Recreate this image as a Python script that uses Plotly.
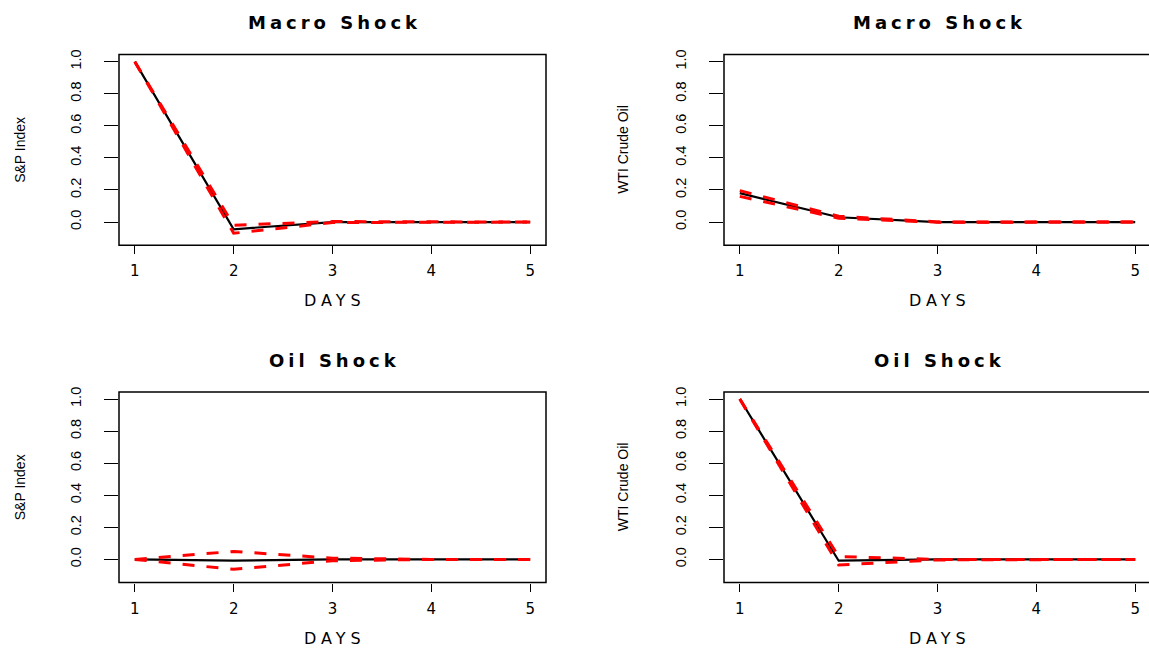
import plotly.graph_objects as go

days = [1, 2, 3, 4, 5]
x_ticks = [1, 2, 3, 4, 5]
y_ticks = [0.0, 0.2, 0.4, 0.6, 0.8, 1.0]
y_tick_labels = ["0.0", "0.2", "0.4", "0.6", "0.8", "1.0"]

macro_sp_irf = [1.0, -0.045, 0.0, 0.0, 0.0]
macro_sp_upper = [1.0, -0.02, 0.003, 0.0, 0.0]
macro_sp_lower = [1.0, -0.07, -0.003, 0.0, 0.0]

macro_wti_irf = [0.18, 0.03, 0.0, 0.0, 0.0]
macro_wti_upper = [0.196, 0.036, 0.001, 0.0, 0.0]
macro_wti_lower = [0.16, 0.024, -0.001, 0.0, 0.0]

oil_sp_irf = [0.0, -0.007, 0.0, 0.0, 0.0]
oil_sp_upper = [0.0, 0.05, 0.008, 0.0, 0.0]
oil_sp_lower = [0.0, -0.062, -0.008, 0.0, 0.0]

oil_wti_irf = [1.0, -0.008, 0.0, 0.0, 0.0]
oil_wti_upper = [1.0, 0.018, 0.0, 0.0, 0.0]
oil_wti_lower = [1.0, -0.035, -0.003, 0.0, 0.0]

panel_titles = ["Macro Shock", "Macro Shock", "Oil Shock", "Oil Shock"]
panel_ylabels = ["S&P Index", "WTI Crude Oil", "S&P Index", "WTI Crude Oil"]
x_label = "DAYS"

W, H = 1149, 648

panels = [
    (macro_sp_irf, macro_sp_upper, macro_sp_lower),
    (macro_wti_irf, macro_wti_upper, macro_wti_lower),
    (oil_sp_irf, oil_sp_upper, oil_sp_lower),
    (oil_wti_irf, oil_wti_upper, oil_wti_lower),
]

# pixel geometry of the plot boxes: (left, right, top, bottom)
boxes = [
    (119, 546, 50, 242),
    (724, 1151, 50, 242),
    (119, 546, 390, 582),
    (724, 1151, 390, 582),
]
XR = (0.84, 5.16)
YR = (-0.144, 1.044)

fig = go.Figure()
layout = dict(
    width=W, height=H, margin=dict(l=0, r=0, t=0, b=0),
    paper_bgcolor="white", plot_bgcolor="white", showlegend=False,
)
shapes = []
annotations = []

rot_font = "Liberation Sans, Arial, Helvetica, sans-serif"
wide = "DejaVu Sans, Verdana, sans-serif"

for i, (irf, up, lo) in enumerate(panels):
    n = "" if i == 0 else str(i + 1)
    l, r, t, b = boxes[i]
    xd1 = min(r, W) / W
    px_per_unit = (r - l) / (XR[1] - XR[0])
    xr_hi = XR[0] + (min(r, W) - l) / px_per_unit
    layout["xaxis" + n] = dict(
        domain=[l / W, xd1], range=[XR[0], xr_hi], anchor="y" + n,
        tickmode="array", tickvals=x_ticks, ticks="outside", ticklen=8,
        tickwidth=1, tickcolor="black", showgrid=False, zeroline=False,
        showline=False, tickfont=dict(family=wide, size=15, color="black"),
        ticklabelstandoff=4, fixedrange=True,
    )
    layout["yaxis" + n] = dict(
        domain=[1 - b / H, 1 - t / H], range=list(YR), anchor="x" + n,
        tickmode="array", tickvals=y_ticks, ticktext=y_tick_labels,
        ticks="outside", ticklen=14, tickwidth=1, tickcolor="black",
        tickangle=-90, showgrid=False, zeroline=False, showline=False,
        tickfont=dict(family=rot_font, size=14.5, color="black"),
        ticklabelstandoff=17, fixedrange=True,
    )
    xr = "x" + n
    yr = "y" + n
    fig.add_trace(go.Scatter(x=days, y=irf, mode="lines", xaxis=xr, yaxis=yr,
                             line=dict(color="black", width=2.2)))
    for band in (up, lo):
        fig.add_trace(go.Scatter(x=days, y=band, mode="lines", xaxis=xr, yaxis=yr,
                                 line=dict(color="#ff0000", width=3, dash="12px,12px")))
    # box
    shapes.append(dict(type="rect", xref=xr + " domain", yref=yr + " domain",
                       x0=0, x1=(r - l) / (min(r, W) - l), y0=0, y1=1,
                       line=dict(color="black", width=1.5), layer="above"))
    cx = (l + r) / 2
    annotations.append(dict(
        text='<span style="letter-spacing:4px"><b>' + panel_titles[i] + '</b></span>',
        x=(cx + 2) / W, y=1 - (t - 32) / H, xref="paper", yref="paper",
        xanchor="center", yanchor="middle", showarrow=False,
        font=dict(family=wide, size=18, color="black")))
    annotations.append(dict(
        text='<span style="letter-spacing:5px">' + x_label + '</span>',
        x=(cx + 2) / W, y=1 - (b + 56) / H, xref="paper", yref="paper",
        xanchor="center", yanchor="middle", showarrow=False,
        font=dict(family=wide, size=16, color="black")))
    ylab_x = 20 if l < 500 else 623
    annotations.append(dict(
        text=panel_ylabels[i], textangle=-90,
        x=ylab_x / W, y=1 - ((t + b) / 2) / H, xref="paper", yref="paper",
        xanchor="center", yanchor="middle", showarrow=False,
        font=dict(family=rot_font, size=14, color="black")))

layout["shapes"] = shapes
layout["annotations"] = annotations
fig.update_layout(**layout)
fig.write_html(
    "out.html",
    config={"displayModeBar": False},
    post_script=(
        "document.body.style.margin='0';"
        "var d=document.getElementById('{plot_id}');"
        "d.style.position='fixed';d.style.left='0px';d.style.top='0px';"
    ),
)
